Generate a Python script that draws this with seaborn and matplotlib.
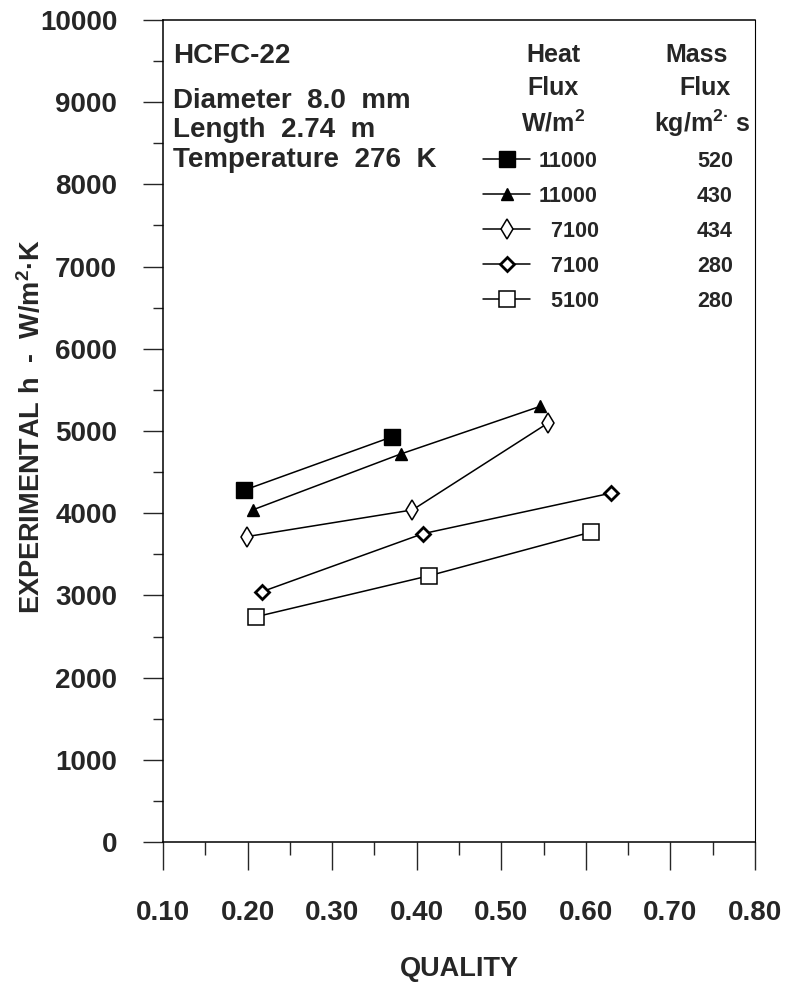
import matplotlib
matplotlib.use("Agg")
import matplotlib.pyplot as plt
import seaborn as sns
import pandas as pd
from matplotlib.ticker import MultipleLocator, FormatStrFormatter
from matplotlib.lines import Line2D

# ---------------- data ----------------
heat_flux_labels = ["11000", "11000", "  7100", "  7100", "  5100"]
mass_flux_labels = ["520", "430", "434", "280", "280"]

q_s1 = [0.196, 0.371]
h_s1 = [4280, 4930]
q_s2 = [0.206, 0.381, 0.546]
h_s2 = [4040, 4720, 5300]
q_s3 = [0.199, 0.395, 0.555]
h_s3 = [3715, 4040, 5095]
q_s4 = [0.217, 0.407, 0.630]
h_s4 = [3045, 3750, 4245]
q_s5 = [0.210, 0.415, 0.606]
h_s5 = [2740, 3240, 3770]

info_lines = ["HCFC-22", "Diameter  8.0  mm", "Length  2.74  m", "Temperature  276  K"]

# ---------------- style ----------------
sns.set_style("white")
plt.rcParams["font.family"] = ["Liberation Sans", "DejaVu Sans"]
plt.rcParams["font.weight"] = "bold"
plt.rcParams["mathtext.fontset"] = "custom"
plt.rcParams["mathtext.rm"] = "Liberation Sans:bold"
plt.rcParams["mathtext.bf"] = "Liberation Sans:bold"
plt.rcParams["mathtext.it"] = "Liberation Sans:bold"

fig = plt.figure(figsize=(7.86, 9.88), dpi=100)
ax = fig.add_axes([163 / 786, 1 - 842 / 988, (755 - 163) / 786, (842 - 20) / 988])

series = [
    (q_s1, h_s1, dict(marker="s", markersize=12, markerfacecolor="black", markeredgecolor="black", markeredgewidth=1)),
    (q_s2, h_s2, dict(marker="^", markersize=8, markerfacecolor="black", markeredgecolor="black", markeredgewidth=1)),
    (q_s3, h_s3, dict(marker="d", markersize=10, markerfacecolor="white", markeredgecolor="black", markeredgewidth=1.1)),
    (q_s4, h_s4, dict(marker="D", markersize=7, markerfacecolor="white", markeredgecolor="black", markeredgewidth=2)),
    (q_s5, h_s5, dict(marker="s", markersize=12, markerfacecolor="white", markeredgecolor="black", markeredgewidth=1.1)),
]

handles = []
for (q, h, mk), lab in zip(series, heat_flux_labels):
    df = pd.DataFrame({"q": q, "h": h})
    sns.lineplot(data=df, x="q", y="h", ax=ax, color="black", linewidth=1.1,
                 sort=False, legend=False, **mk)
    handles.append(Line2D([], [], color="black", linewidth=1.1, **mk))

# invisible handles for the mass-flux column
blank = [Line2D([], [], linestyle="none", marker=None) for _ in mass_flux_labels]

leg = ax.legend(handles + blank, heat_flux_labels + mass_flux_labels, ncol=2,
                loc="upper left", bbox_to_anchor=((483 - 163) / 592, (842 - 151) / 822),
                frameon=False, borderpad=0, borderaxespad=0,
                handlelength=2.2, handletextpad=0.4, columnspacing=1.95,
                labelspacing=0.65, prop={"size": 15.5, "weight": "bold"})

# ---------------- axes ----------------
ax.set_xlim(0.10, 0.80)
ax.set_ylim(0, 10000)
ax.xaxis.set_major_locator(MultipleLocator(0.1))
ax.xaxis.set_minor_locator(MultipleLocator(0.05))
ax.xaxis.set_major_formatter(FormatStrFormatter("%.2f"))
ax.yaxis.set_major_locator(MultipleLocator(1000))
ax.yaxis.set_minor_locator(MultipleLocator(500))

ax.tick_params(axis="x", which="major", direction="out", length=20, width=1, pad=22,
               labelsize=20, bottom=True)
ax.tick_params(axis="x", which="minor", direction="out", length=9.5, width=1, bottom=True)
ax.tick_params(axis="y", which="major", direction="out", length=14.5, width=1, pad=18.5,
               labelsize=20, left=True)
ax.tick_params(axis="y", which="minor", direction="out", length=7.2, width=1, left=True)
for lab in ax.get_xticklabels() + ax.get_yticklabels():
    lab.set_fontweight("bold")

for s in ax.spines.values():
    s.set_color("black")
    s.set_linewidth(1.1)
ax.spines["right"].set_linewidth(0.8)

ax.set_xlabel("QUALITY", fontsize=19.5, fontweight="bold")
ax.xaxis.set_label_coords(0.5, -0.139)
ax.xaxis.label.set_va("top")
ax.set_ylabel("EXPERIMENTAL h  -  W/m$\\mathregular{^{2}}$·K",
              fontsize=19.5, fontweight="bold")
ax.yaxis.set_label_coords(-0.198, 0.505)

# ---------------- annotations ----------------
def fy(py):
    return (842 - py) / 822

def fx(px):
    return (px - 163) / 592

for txt, base in zip(info_lines, [63, 108, 137, 167]):
    ax.text(fx(173), fy(base), txt, transform=ax.transAxes, fontsize=20,
            fontweight="bold", va="baseline", ha="left")

for txt, base in zip(["Heat", "Flux", "W/m$\\mathregular{^{2}}$"], [62, 95, 132]):
    ax.text(fx(553), fy(base), txt, transform=ax.transAxes, fontsize=18,
            fontweight="bold", va="baseline", ha="center")
for txt, x0, base in zip(["Mass", "Flux", "kg/m$\\mathregular{^{2·}}$ s"], [697, 705, 702], [62, 95, 132]):
    ax.text(fx(x0), fy(base), txt, transform=ax.transAxes, fontsize=18,
            fontweight="bold", va="baseline", ha="center")

fig.savefig("out.png", dpi=100)
